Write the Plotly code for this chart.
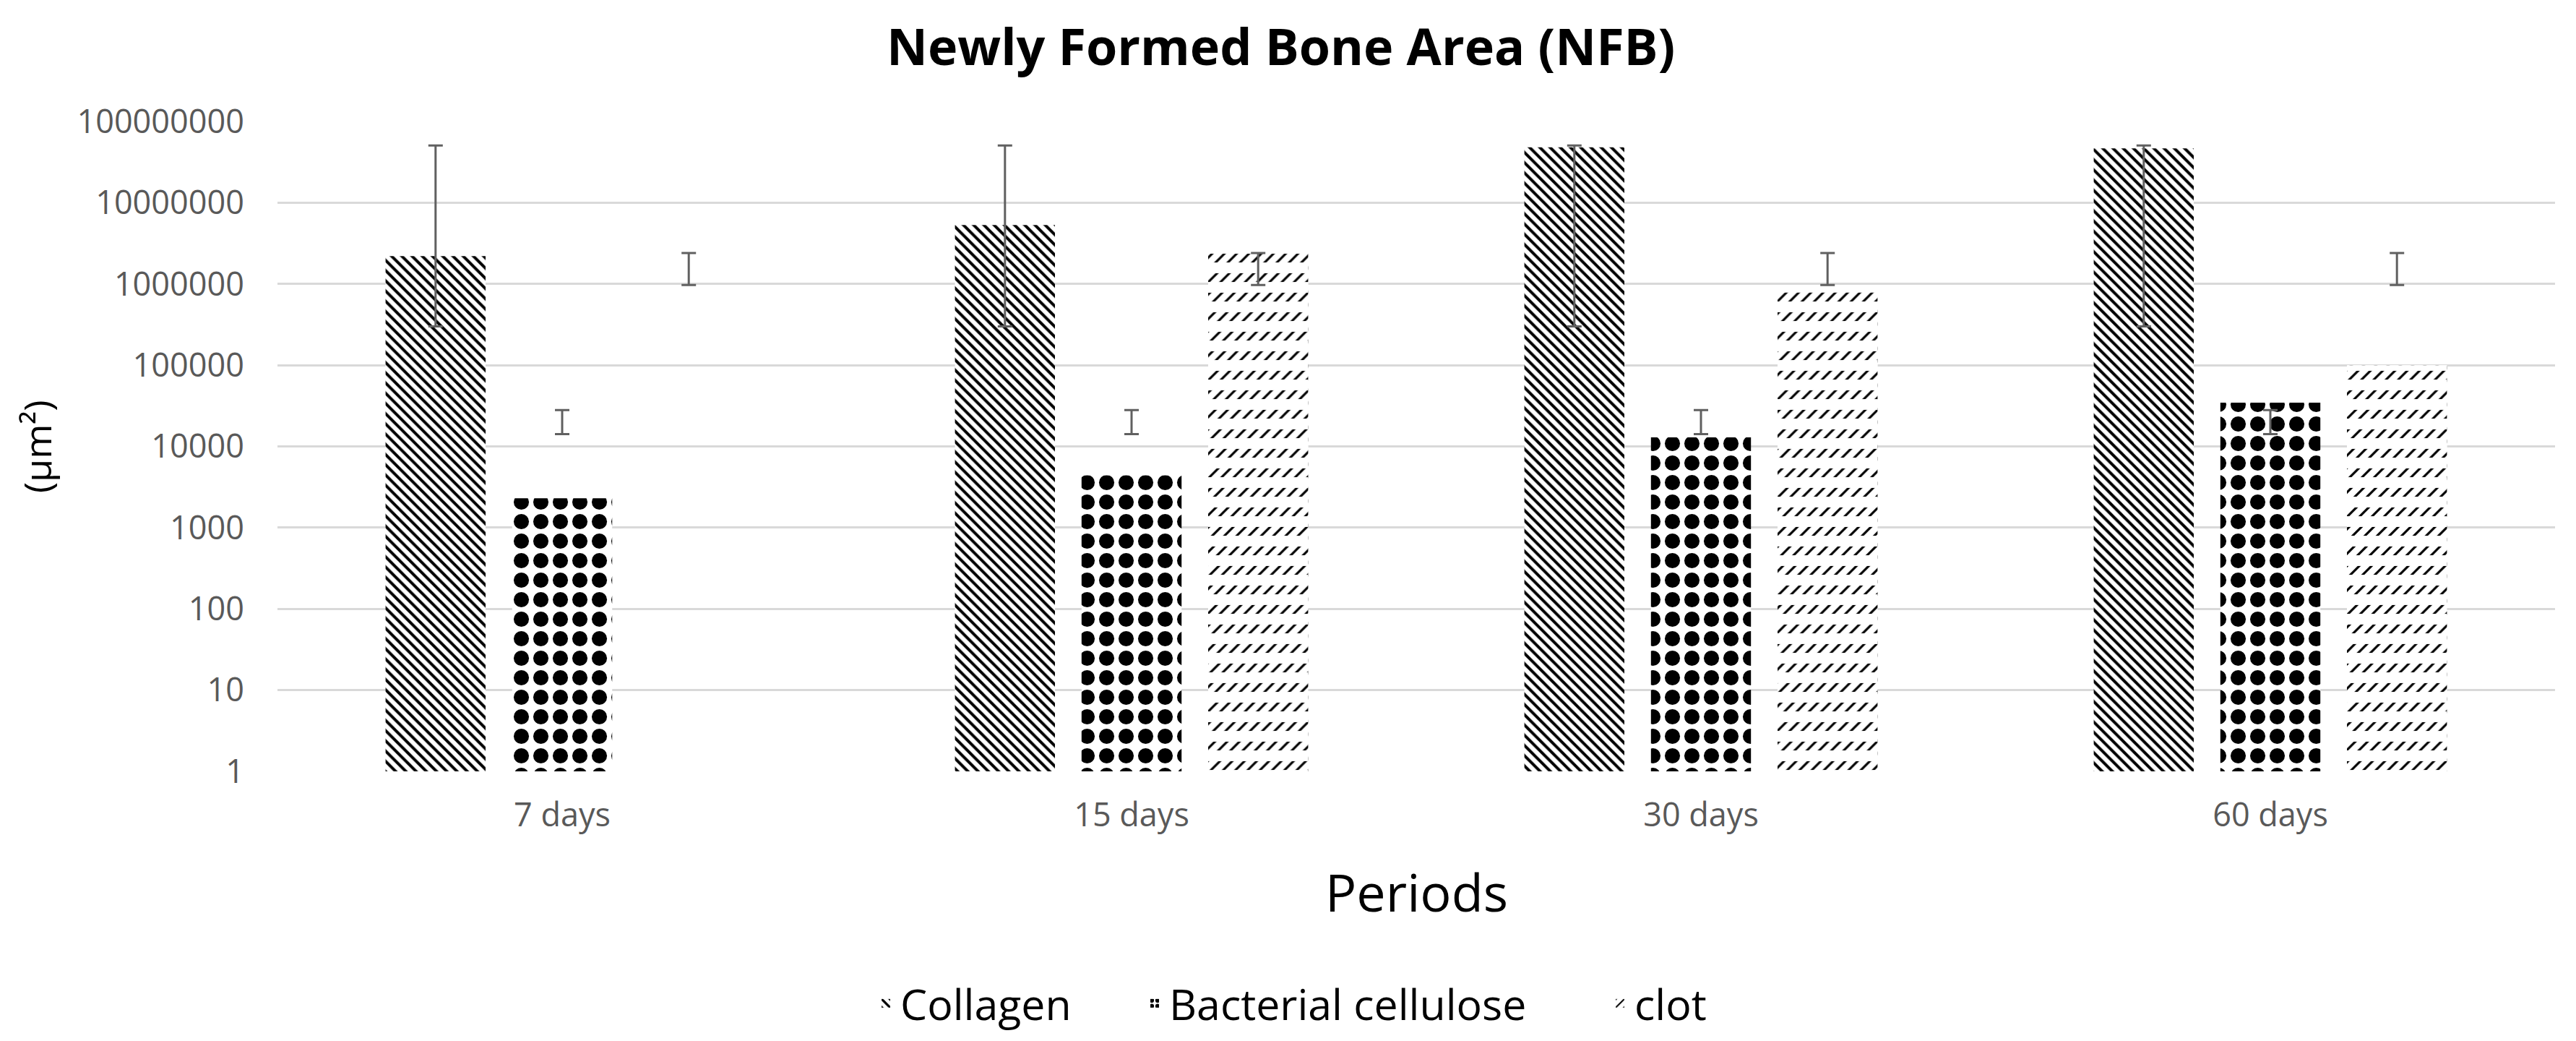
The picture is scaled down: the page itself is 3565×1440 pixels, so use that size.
import plotly.graph_objects as go

# ---------------- data ----------------
categories = ["7 days", "15 days", "30 days", "60 days"]

collagen = [2.2e6, 5.3e6, 4.8e7, 4.65e7]
bacterial = [2300, 4400, 12900, 34600]
clot = [None, 2.45e6, 7.9e5, 1.0e5]

collagen_err_low = [3.0e5, 3.0e5, 3.0e5, 3.0e5]
collagen_err_high = [5.05e7, 5.05e7, 5.05e7, 5.05e7]
bacterial_err_low = [14200, 14200, 14200, 14200]
bacterial_err_high = [28000, 28000, 28000, 28000]
clot_err_low = [9.7e5, 9.7e5, 9.7e5, 9.7e5]
clot_err_high = [2.4e6, 2.4e6, 2.4e6, 2.4e6]

ytick_vals = [1, 10, 100, 1000, 10000, 100000, 1000000, 10000000, 100000000]
ytick_text = ["1", "10", "100", "1000", "10000", "100000", "1000000", "10000000", "100000000"]

series_names = ["Collagen", "Bacterial cellulose", "clot"]

# ---------------- styles ----------------
FONT = "Open Sans"
TICK_COLOR = "#595959"
ERR_COLOR = "#606060"
W, H = 3565, 1440

fig = go.Figure()

fig.add_trace(go.Bar(
    name=series_names[0], x=categories, y=collagen, offsetgroup="a", legend="legend",
    marker=dict(color="white", line=dict(width=0),
                pattern=dict(shape="\\", size=10, solidity=0.4,
                             fgcolor="black", bgcolor="white", fillmode="replace")),
    hoverinfo="skip",
))
fig.add_trace(go.Bar(
    name=series_names[1], x=categories, y=bacterial, offsetgroup="b", legend="legend2",
    marker=dict(color="white", line=dict(width=0),
                pattern=dict(shape=".", size=27, solidity=0.48,
                             fgcolor="black", bgcolor="white", fillmode="replace")),
    hoverinfo="skip",
))
fig.add_trace(go.Bar(
    name=series_names[2], x=categories, y=clot, offsetgroup="c", legend="legend3",
    marker=dict(color="white", line=dict(width=0),
                pattern=dict(shape="/", size=12, solidity=0.26,
                             fgcolor="black", bgcolor="white", fillmode="replace")),
    hoverinfo="skip",
))
# mask to turn the diagonal lines of the clot pattern into rows of dashes
fig.add_trace(go.Bar(
    name=series_names[2], x=categories, y=clot, offsetgroup="c",
    marker=dict(color="rgba(0,0,0,0)", line=dict(width=0),
                pattern=dict(shape="-", size=27, solidity=0.55,
                             fgcolor="white", bgcolor="rgba(0,0,0,0)", fillmode="replace")),
    showlegend=False, hoverinfo="skip",
))

# error bars (floating ranges)
for grp, lo, hi in [("a", collagen_err_low, collagen_err_high),
                    ("b", bacterial_err_low, bacterial_err_high),
                    ("c", clot_err_low, clot_err_high)]:
    fig.add_trace(go.Scatter(
        x=categories, y=lo, mode="markers", offsetgroup=grp,
        marker=dict(size=1, opacity=0),
        error_y=dict(type="data", symmetric=False,
                     array=[h - l for h, l in zip(hi, lo)],
                     arrayminus=[0 for _ in lo],
                     color=ERR_COLOR, thickness=3, width=10),
        showlegend=False, hoverinfo="skip",
    ))

legend_font = dict(family=FONT, size=59, color="black")
legend_y = 1 - 1380 / H


def legend_at(px):
    return dict(orientation="h", xref="container", x=px / W, xanchor="left",
                yref="container", y=legend_y, yanchor="middle",
                font=legend_font, bgcolor="rgba(0,0,0,0)")


fig.update_layout(
    width=W, height=H,
    margin=dict(l=376, r=37, t=160, b=381),
    paper_bgcolor="white", plot_bgcolor="white",
    barmode="group", bargap=0.333, bargroupgap=0.21,
    scattermode="group", scattergap=0.333,
    font=dict(family=FONT, color="black"),
    title=dict(text="Newly Formed Bone Area (NFB)",
               font=dict(family=FONT, size=70, color="black", weight="bold"),
               x=0.495, xref="container", xanchor="center",
               y=1 - 57 / H, yref="container", yanchor="middle"),
    showlegend=True,
    legend=legend_at(1198),
    legend2=legend_at(1570),
    legend3=legend_at(2214),
    xaxis=dict(type="category", showgrid=False, showline=False, ticks="",
               tickfont=dict(family=FONT, size=45, color=TICK_COLOR),
               ticklabelstandoff=30),
    yaxis=dict(type="log", range=[0, 8], tickvals=ytick_vals, ticktext=ytick_text,
               showgrid=True, gridcolor="#d9d9d9", gridwidth=2.5,
               zeroline=False, showline=False, ticks="",
               tickfont=dict(family=FONT, size=45, color=TICK_COLOR),
               ticklabelstandoff=45),
    annotations=[
        dict(text="(μm²)", xref="paper", yref="paper", x=-0.1057, y=0.5,
             textangle=-90, showarrow=False, xanchor="center", yanchor="middle",
             font=dict(family=FONT, size=52, color="black")),
        dict(text="Periods", xref="paper", yref="paper", x=0.5, y=-0.185,
             showarrow=False, xanchor="center", yanchor="middle",
             font=dict(family=FONT, size=72, color="black")),
    ],
)

fig.write_html("out.html")
